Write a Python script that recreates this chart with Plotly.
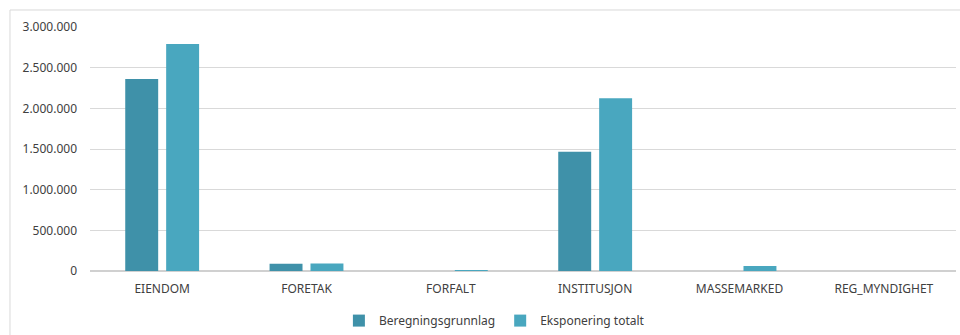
import plotly.graph_objects as go

categories = ["EIENDOM", "FORETAK", "FORFALT", "INSTITUSJON", "MASSEMARKED", "REG_MYNDIGHET"]
beregningsgrunnlag = [2360000, 88000, 0, 1465000, 0, 0]
eksponering_totalt = [2790000, 92000, 12000, 2125000, 62000, 0]
y_ticks = [0, 500000, 1000000, 1500000, 2000000, 2500000, 3000000]
y_tick_labels = ["0", "500.000", "1.000.000", "1.500.000", "2.000.000", "2.500.000", "3.000.000"]

font_family = "Noto Sans, Open Sans, sans-serif"
text_color = "#404040"

fig = go.Figure()
fig.add_trace(go.Bar(
    name="Beregningsgrunnlag", x=categories, y=beregningsgrunnlag,
    marker=dict(color="#3f91a9", line=dict(width=0)),
))
fig.add_trace(go.Bar(
    name="Eksponering totalt", x=categories, y=eksponering_totalt,
    marker=dict(color="#49a7bf", line=dict(width=0)),
))

fig.update_layout(
    width=960, height=335,
    margin=dict(l=90, r=4, t=27, b=64),
    paper_bgcolor="white", plot_bgcolor="white",
    barmode="group", bargap=0.433, bargroupgap=0.195,
    font=dict(family=font_family, size=12, color=text_color),
    showlegend=True,
    legend=dict(
        orientation="h", x=0.515, xref="container", xanchor="center",
        y=0.043, yref="container", yanchor="middle",
        font=dict(size=12, color=text_color), itemwidth=30,
    ),
    xaxis=dict(
        showgrid=False, showline=False, ticks="", tickfont=dict(size=12),
        ticklabelstandoff=9,
    ),
    yaxis=dict(
        range=[0, 3000000], tickvals=y_ticks, ticktext=y_tick_labels,
        showgrid=True, gridcolor="#d9d9d9", gridwidth=1,
        zeroline=True, zerolinecolor="#d0d0d0", zerolinewidth=1.5,
        showline=False, ticks="", tickfont=dict(size=12),
        ticklabelstandoff=12,
    ),
    shapes=[dict(
        type="rect", xref="paper", yref="paper",
        x0=-0.0924, x1=1.01, y0=-0.4, y1=1.0697,
        line=dict(color="#d9d9d9", width=1), fillcolor="rgba(0,0,0,0)", layer="below",
    )],
)

fig.write_html("out.html")
